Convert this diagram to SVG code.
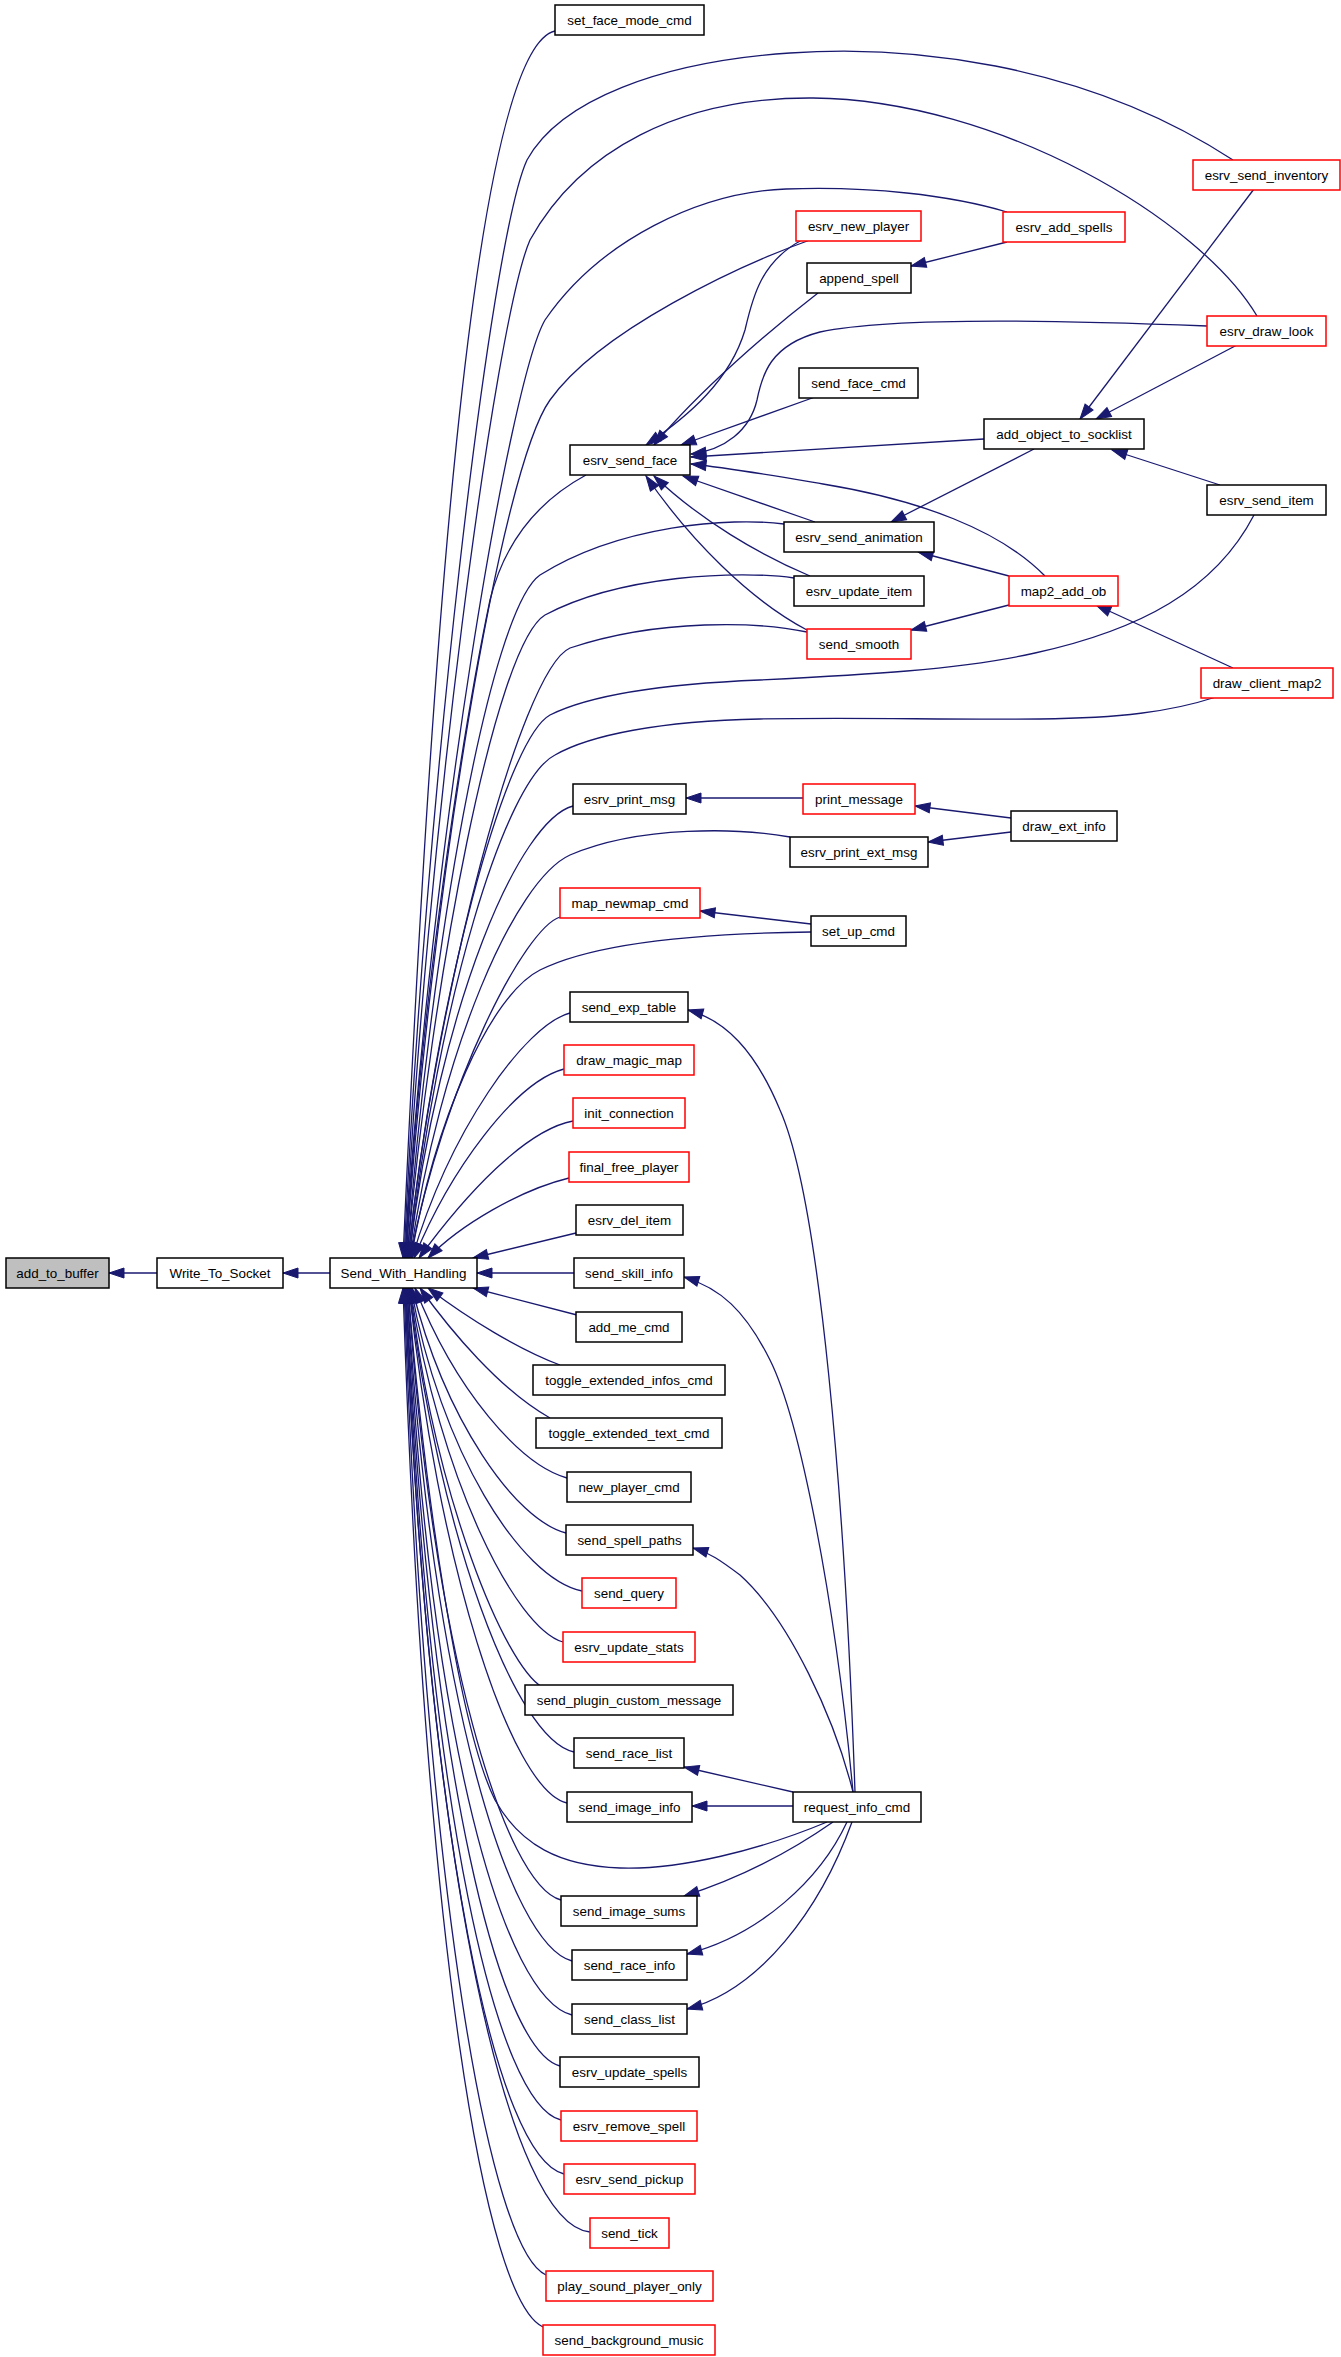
<svg xmlns="http://www.w3.org/2000/svg" width="1341" height="2357" viewBox="0 0 1341 2357">
<style>
.n rect{fill:#fff;stroke:#000;stroke-width:1.5}
.r rect{stroke:#ff0000}
.g rect{fill:#bfbfbf}
text{font-family:"Liberation Sans",Arial,sans-serif;font-size:13.4px;text-anchor:middle;fill:#000}
#edges path{fill:none;stroke:#191970;stroke-width:1.3;marker-end:url(#a)}
</style>
<defs>
<marker id="a" markerUnits="userSpaceOnUse" markerWidth="16" markerHeight="11" refX="15" refY="5" orient="auto" viewBox="0 0 16 11" overflow="visible">
<path d="M0,0 L15,5 L0,10 z" fill="#191970" stroke="#191970" stroke-width="1"/>
</marker>
</defs>
<rect width="1341" height="2357" fill="#fff"/>
<g id="edges">
<path d="M157,1273 L109,1273"/>
<path d="M330,1273 L283,1273"/>
<path d="M555,31 C470,50 428,700 403,1258"/>
<path d="M1233,160 C1080,60 900,45 790,53 C660,62 560,100 527,160 C490,240 425,800 404,1258"/>
<path d="M1257,316 C1200,220 1000,100 813,98 C680,97 580,150 530,240 C495,320 425,850 405,1258"/>
<path d="M1007,212 C950,195 870,186 786,189 C700,192 600,240 545,320 C510,380 430,850 405,1258"/>
<path d="M810,240 C740,265 600,330 550,400 C500,470 430,900 406,1258"/>
<path d="M586,475 C540,500 505,540 490,600 C465,720 420,1000 406,1258"/>
<path d="M784,524 C730,517 620,525 540,575 C490,610 430,950 407,1258"/>
<path d="M794,578 C740,570 620,575 545,615 C495,645 432,980 407,1258"/>
<path d="M807,632 C760,622 660,618 570,648 C520,670 435,1000 408,1258"/>
<path d="M1254,515 C1215,590 1140,630 1035,653 C960,670 860,675 760,680 C660,684 590,695 550,715 C505,740 435,1000 408,1258"/>
<path d="M1216,697 C1170,712 1120,718 1040,719 C940,720 860,717 760,719 C660,721 590,735 555,755 C505,780 438,1000 409,1258"/>
<path d="M573,806 C520,820 440,1000 409,1258"/>
<path d="M790,837 C740,828 640,825 570,855 C515,880 440,1050 410,1258"/>
<path d="M560,917 C525,928 445,1080 410,1258"/>
<path d="M811,932 C720,933 600,940 540,970 C490,995 435,1120 411,1258"/>
<path d="M570,1013 C525,1025 450,1130 412,1258"/>
<path d="M564,1069 C515,1082 450,1170 414,1258"/>
<path d="M573,1121 C525,1130 465,1195 419,1258"/>
<path d="M569,1178 C520,1190 460,1225 428,1258"/>
<path d="M576,1233 L473,1258"/>
<path d="M574,1273 L477,1273"/>
<path d="M577,1315 L473,1288"/>
<path d="M560,1365 C520,1350 470,1320 428,1288"/>
<path d="M550,1418 C500,1390 450,1330 420,1288"/>
<path d="M567,1478 C520,1465 455,1390 415,1288"/>
<path d="M566,1533 C515,1520 445,1420 412,1288"/>
<path d="M582,1591 C520,1578 440,1450 411,1288"/>
<path d="M563,1642 C515,1628 440,1480 410,1288"/>
<path d="M542,1687 C505,1665 435,1500 410,1288"/>
<path d="M574,1752 C515,1740 438,1530 409,1288"/>
<path d="M567,1803 C510,1790 437,1560 409,1288"/>
<path d="M827,1822 C760,1850 680,1870 620,1868 C560,1866 520,1845 495,1800 C460,1730 425,1500 408,1288"/>
<path d="M561,1900 C505,1885 432,1650 408,1288"/>
<path d="M572,1961 C510,1945 432,1700 407,1288"/>
<path d="M572,2015 C505,1998 430,1750 407,1288"/>
<path d="M560,2066 C500,2050 430,1780 406,1288"/>
<path d="M561,2120 C498,2105 428,1820 406,1288"/>
<path d="M564,2174 C497,2158 428,1850 405,1288"/>
<path d="M590,2232 C510,2225 428,1880 405,1288"/>
<path d="M546,2275 C490,2250 426,1900 404,1288"/>
<path d="M543,2327 C485,2300 425,1950 403,1288"/>
<path d="M1007,242 L911,266"/>
<path d="M802,240 C760,262 752,300 745,330 C730,380 690,415 646,445"/>
<path d="M818,293 C770,330 700,390 654,445"/>
<path d="M1207,326 C1100,322 900,315 820,332 C770,345 762,375 757,400 C750,430 725,450 691,454"/>
<path d="M815,397 L681,445"/>
<path d="M984,439 L691,457"/>
<path d="M1045,576 C1000,530 920,500 823,484 C770,475 730,468 691,464"/>
<path d="M815,522 L683,476"/>
<path d="M810,576 C760,555 700,520 654,476"/>
<path d="M807,630 C750,600 690,540 646,476"/>
<path d="M1254,189 L1080,419"/>
<path d="M1237,345 L1096,419"/>
<path d="M1220,485 L1112,450"/>
<path d="M1034,449 L891,522"/>
<path d="M1009,576 L918,552"/>
<path d="M1009,605 L911,630"/>
<path d="M1233,668 L1096,605"/>
<path d="M803,798 L686,798"/>
<path d="M1011,818 L915,806"/>
<path d="M1011,832 L928,842"/>
<path d="M811,924 L700,911"/>
<path d="M855,1792 C845,1500 820,1200 780,1110 C755,1050 725,1020 688,1010"/>
<path d="M853,1792 C835,1600 800,1420 770,1360 C745,1310 720,1288 684,1277"/>
<path d="M853,1792 C835,1720 790,1620 740,1575 C720,1560 710,1553 693,1548"/>
<path d="M793,1792 L684,1767"/>
<path d="M793,1806 L692,1806"/>
<path d="M833,1822 C800,1845 750,1875 684,1896"/>
<path d="M847,1822 C820,1880 760,1935 687,1954"/>
<path d="M852,1822 C820,1910 760,1990 687,2009"/>
</g>
<g id="add_to_buffer" class="n g"><rect x="6" y="1258" width="103" height="30"/><text x="57.5" y="1277.5">add_to_buffer</text></g>
<g id="Write_To_Socket" class="n"><rect x="157" y="1258" width="126" height="30"/><text x="220" y="1277.5">Write_To_Socket</text></g>
<g id="Send_With_Handling" class="n"><rect x="330" y="1258" width="147" height="30"/><text x="403.5" y="1277.5">Send_With_Handling</text></g>
<g id="set_face_mode_cmd" class="n"><rect x="555" y="5" width="149" height="30"/><text x="629.5" y="24.5">set_face_mode_cmd</text></g>
<g id="esrv_send_face" class="n"><rect x="570" y="445" width="120" height="30"/><text x="630" y="464.5">esrv_send_face</text></g>
<g id="esrv_print_msg" class="n"><rect x="573" y="784" width="113" height="30"/><text x="629.5" y="803.5">esrv_print_msg</text></g>
<g id="map_newmap_cmd" class="n r"><rect x="560" y="888" width="140" height="30"/><text x="630" y="907.5">map_newmap_cmd</text></g>
<g id="send_exp_table" class="n"><rect x="570" y="992" width="118" height="30"/><text x="629" y="1011.5">send_exp_table</text></g>
<g id="draw_magic_map" class="n r"><rect x="564" y="1045" width="130" height="30"/><text x="629" y="1064.5">draw_magic_map</text></g>
<g id="init_connection" class="n r"><rect x="573" y="1098" width="112" height="30"/><text x="629" y="1117.5">init_connection</text></g>
<g id="final_free_player" class="n r"><rect x="569" y="1152" width="120" height="30"/><text x="629" y="1171.5">final_free_player</text></g>
<g id="esrv_del_item" class="n"><rect x="576" y="1205" width="107" height="30"/><text x="629.5" y="1224.5">esrv_del_item</text></g>
<g id="send_skill_info" class="n"><rect x="574" y="1258" width="110" height="30"/><text x="629" y="1277.5">send_skill_info</text></g>
<g id="add_me_cmd" class="n"><rect x="576" y="1312" width="106" height="30"/><text x="629" y="1331.5">add_me_cmd</text></g>
<g id="toggle_extended_infos_cmd" class="n"><rect x="533" y="1365" width="192" height="30"/><text x="629" y="1384.5">toggle_extended_infos_cmd</text></g>
<g id="toggle_extended_text_cmd" class="n"><rect x="536" y="1418" width="186" height="30"/><text x="629" y="1437.5">toggle_extended_text_cmd</text></g>
<g id="new_player_cmd" class="n"><rect x="567" y="1472" width="124" height="30"/><text x="629" y="1491.5">new_player_cmd</text></g>
<g id="send_spell_paths" class="n"><rect x="566" y="1525" width="127" height="30"/><text x="629.5" y="1544.5">send_spell_paths</text></g>
<g id="send_query" class="n r"><rect x="582" y="1578" width="94" height="30"/><text x="629" y="1597.5">send_query</text></g>
<g id="esrv_update_stats" class="n r"><rect x="563" y="1632" width="132" height="30"/><text x="629" y="1651.5">esrv_update_stats</text></g>
<g id="send_plugin_custom_message" class="n"><rect x="525" y="1685" width="208" height="30"/><text x="629" y="1704.5">send_plugin_custom_message</text></g>
<g id="send_race_list" class="n"><rect x="574" y="1738" width="110" height="30"/><text x="629" y="1757.5">send_race_list</text></g>
<g id="send_image_info" class="n"><rect x="567" y="1792" width="125" height="30"/><text x="629.5" y="1811.5">send_image_info</text></g>
<g id="send_image_sums" class="n"><rect x="561" y="1896" width="136" height="30"/><text x="629" y="1915.5">send_image_sums</text></g>
<g id="send_race_info" class="n"><rect x="572" y="1950" width="115" height="30"/><text x="629.5" y="1969.5">send_race_info</text></g>
<g id="send_class_list" class="n"><rect x="572" y="2004" width="115" height="30"/><text x="629.5" y="2023.5">send_class_list</text></g>
<g id="esrv_update_spells" class="n"><rect x="560" y="2057" width="139" height="30"/><text x="629.5" y="2076.5">esrv_update_spells</text></g>
<g id="esrv_remove_spell" class="n r"><rect x="561" y="2111" width="136" height="30"/><text x="629" y="2130.5">esrv_remove_spell</text></g>
<g id="esrv_send_pickup" class="n r"><rect x="564" y="2164" width="131" height="30"/><text x="629.5" y="2183.5">esrv_send_pickup</text></g>
<g id="send_tick" class="n r"><rect x="590" y="2218" width="79" height="30"/><text x="629.5" y="2237.5">send_tick</text></g>
<g id="play_sound_player_only" class="n r"><rect x="546" y="2271" width="167" height="30"/><text x="629.5" y="2290.5">play_sound_player_only</text></g>
<g id="send_background_music" class="n r"><rect x="543" y="2325" width="172" height="30"/><text x="629" y="2344.5">send_background_music</text></g>
<g id="esrv_new_player" class="n r"><rect x="796" y="211" width="125" height="30"/><text x="858.5" y="230.5">esrv_new_player</text></g>
<g id="append_spell" class="n"><rect x="807" y="263" width="104" height="30"/><text x="859" y="282.5">append_spell</text></g>
<g id="send_face_cmd" class="n"><rect x="799" y="368" width="119" height="30"/><text x="858.5" y="387.5">send_face_cmd</text></g>
<g id="esrv_send_animation" class="n"><rect x="784" y="522" width="150" height="30"/><text x="859" y="541.5">esrv_send_animation</text></g>
<g id="esrv_update_item" class="n"><rect x="794" y="576" width="130" height="30"/><text x="859" y="595.5">esrv_update_item</text></g>
<g id="send_smooth" class="n r"><rect x="807" y="629" width="104" height="30"/><text x="859" y="648.5">send_smooth</text></g>
<g id="print_message" class="n r"><rect x="803" y="784" width="112" height="30"/><text x="859" y="803.5">print_message</text></g>
<g id="esrv_print_ext_msg" class="n"><rect x="790" y="837" width="138" height="30"/><text x="859" y="856.5">esrv_print_ext_msg</text></g>
<g id="set_up_cmd" class="n"><rect x="811" y="916" width="95" height="30"/><text x="858.5" y="935.5">set_up_cmd</text></g>
<g id="request_info_cmd" class="n"><rect x="793" y="1792" width="128" height="30"/><text x="857" y="1811.5">request_info_cmd</text></g>
<g id="esrv_add_spells" class="n r"><rect x="1003" y="212" width="122" height="30"/><text x="1064" y="231.5">esrv_add_spells</text></g>
<g id="add_object_to_socklist" class="n"><rect x="984" y="419" width="160" height="30"/><text x="1064" y="438.5">add_object_to_socklist</text></g>
<g id="map2_add_ob" class="n r"><rect x="1009" y="576" width="109" height="30"/><text x="1063.5" y="595.5">map2_add_ob</text></g>
<g id="draw_ext_info" class="n"><rect x="1011" y="811" width="106" height="30"/><text x="1064" y="830.5">draw_ext_info</text></g>
<g id="esrv_send_inventory" class="n r"><rect x="1193" y="160" width="147" height="30"/><text x="1266.5" y="179.5">esrv_send_inventory</text></g>
<g id="esrv_draw_look" class="n r"><rect x="1207" y="316" width="119" height="30"/><text x="1266.5" y="335.5">esrv_draw_look</text></g>
<g id="esrv_send_item" class="n"><rect x="1207" y="485" width="119" height="30"/><text x="1266.5" y="504.5">esrv_send_item</text></g>
<g id="draw_client_map2" class="n r"><rect x="1201" y="668" width="132" height="30"/><text x="1267" y="687.5">draw_client_map2</text></g>
</svg>
